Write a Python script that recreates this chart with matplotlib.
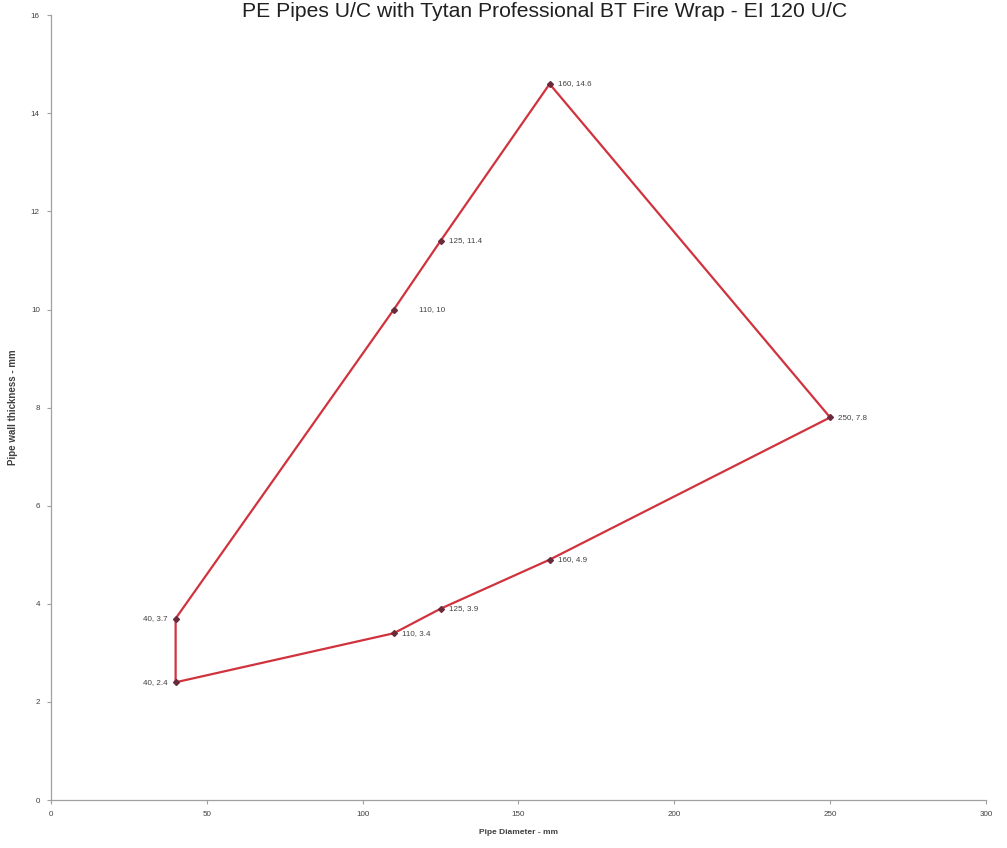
import matplotlib
matplotlib.use("Agg")
import matplotlib.pyplot as plt

plt.rcParams['font.family'] = ['Liberation Sans', 'DejaVu Sans']

# Data: closed polygon path
diameters = [40, 40, 110, 125, 160, 250, 160, 125, 110, 40]
thickness = [2.4, 3.7, 10, 11.4, 14.6, 7.8, 4.9, 3.9, 3.4, 2.4]
point_labels = ["40, 2.4", "40, 3.7", "110, 10", "125, 11.4", "160, 14.6",
                "250, 7.8", "160, 4.9", "125, 3.9", "110, 3.4"]
label_side = ["left", "left", "right", "right", "right",
              "right", "right", "right", "right"]
label_gap = [6, 6, 18, 6, 6, 6, 6, 6, 6]

x_ticks = [0, 50, 100, 150, 200, 250, 300]
y_ticks = [0, 2, 4, 6, 8, 10, 12, 14, 16]

title = "PE Pipes U/C with Tytan Professional BT Fire Wrap - EI 120 U/C"
x_label = "Pipe Diameter - mm"
y_label = "Pipe wall thickness - mm"

fig = plt.figure(figsize=(10.07, 8.48), dpi=100)
ax = fig.add_axes([0.0506, 0.0566, 0.9285, 0.9254])

ax.plot(diameters, thickness, color='#d0333d', lw=1.6, zorder=2)
ax.plot(diameters[:-1], thickness[:-1], ls='none', marker='D', ms=3,
        color='#6a2a3a', zorder=3)

for x, y, lab, side, gap in zip(diameters[:-1], thickness[:-1], point_labels, label_side, label_gap):
    if side == "left":
        ax.annotate(lab, (x, y), xytext=(-gap, 0), textcoords='offset points',
                    ha='right', va='center', fontsize=5.8, color='#404040')
    else:
        ax.annotate(lab, (x, y), xytext=(gap, 0), textcoords='offset points',
                    ha='left', va='center', fontsize=5.8, color='#404040')

ax.set_xlim(0, 300)
ax.set_ylim(0, 16)
ax.set_xticks(x_ticks)
ax.set_yticks(y_ticks)
ax.tick_params(axis='both', labelsize=5.8, labelcolor='#404040', color='#a0a0a0',
               length=3, width=0.8, direction='out')
ax.tick_params(axis='x', pad=5)
ax.tick_params(axis='y', pad=5)

for s in ['top', 'right']:
    ax.spines[s].set_visible(False)
for s in ['left', 'bottom']:
    ax.spines[s].set_color('#a0a0a0')
    ax.spines[s].set_linewidth(0.9)

ax.set_xlabel(x_label, fontsize=6, fontweight='bold', color='#404040', labelpad=8)
ax.set_ylabel(y_label, fontsize=7, fontweight='bold', color='#404040', labelpad=9)

fig.text(0.5405, 1 - 17/848, title, ha='center', va='baseline', fontsize=15.2,
         color='#202020')

fig.savefig("out.png", dpi=100)
